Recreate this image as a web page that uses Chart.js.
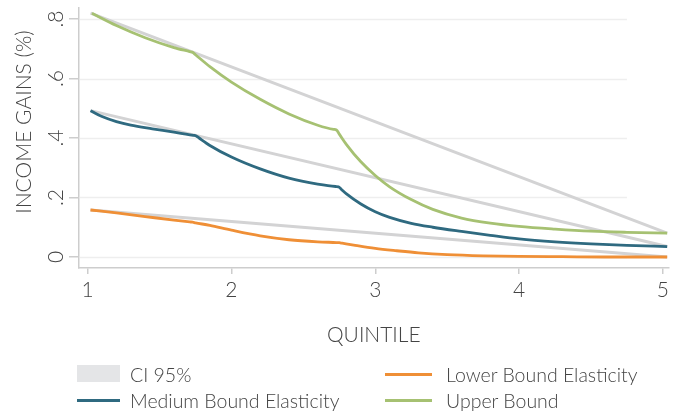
<!DOCTYPE html>
<html>
<head>
<meta charset="utf-8">
<script src="https://cdn.jsdelivr.net/npm/chart.js@4.4.0/dist/chart.umd.min.js"></script>
<style>
  html, body { margin: 0; padding: 0; background: #fff; }
  #wrap { position: relative; width: 673px; height: 414px; overflow: hidden;
          font-family: Lato, "Open Sans", sans-serif; font-weight: 300; color: #444; }
  #c { position: absolute; left: 0; top: 0; }
  .lg-text { position: absolute; font-size: 19.5px; line-height: 20px; white-space: nowrap; }
  .lg-swatch { position: absolute; }
</style>
</head>
<body>
<div id="wrap">
  <canvas id="c" width="673" height="414"></canvas>
  <div id="legend"></div>
</div>
<script>
// Quintile axis and income-gain ticks
const quintileTicks = [1, 2, 3, 4, 5];
const gainTickValues = [0, 0.2, 0.4, 0.6, 0.8];
const gainTickLabels = ['0', '.2', '.4', '.6', '.8'];

// Upper bound elasticity
const upperX = [1.03, 1.20, 1.40, 1.60, 1.71, 1.73, 1.75,
                1.85, 2.00, 2.20, 2.40, 2.60, 2.71, 2.73, 2.75,
                2.80, 2.90, 3.00, 3.10, 3.25, 3.40, 3.60, 3.80, 4.00, 4.25, 4.50, 4.75, 5.03];
const upperY = [0.819, 0.778, 0.737, 0.704, 0.6905, 0.688, 0.680,
                0.640, 0.588, 0.530, 0.481, 0.443, 0.429, 0.427, 0.413,
                0.378, 0.320, 0.274, 0.236, 0.193, 0.160, 0.131, 0.114, 0.103, 0.094, 0.087, 0.083, 0.080];

// Medium bound elasticity
const mediumX = [1.02, 1.10, 1.20, 1.30, 1.45, 1.60, 1.735, 1.755, 1.775,
                 1.85, 2.00, 2.20, 2.40, 2.60, 2.725, 2.745, 2.765,
                 2.80, 2.90, 3.00, 3.10, 3.25, 3.40, 3.60, 3.80, 4.00, 4.25, 4.50, 4.75, 5.03];
const mediumY = [0.492, 0.472, 0.455, 0.443, 0.431, 0.420, 0.409, 0.407, 0.400,
                 0.375, 0.336, 0.296, 0.265, 0.245, 0.237, 0.236, 0.227,
                 0.212, 0.178, 0.152, 0.133, 0.113, 0.100, 0.086, 0.073, 0.061, 0.051, 0.044, 0.039, 0.035];

// Lower bound elasticity
const lowerX = [1.02, 1.20, 1.40, 1.60, 1.71, 1.73, 1.75,
                1.85, 2.00, 2.20, 2.40, 2.60, 2.73, 2.75, 2.77,
                2.85, 3.00, 3.15, 3.30, 3.50, 3.75, 4.00, 4.30, 4.60, 5.03];
const lowerY = [0.158, 0.148, 0.136, 0.124, 0.118, 0.117, 0.115,
                0.106, 0.090, 0.071, 0.058, 0.051, 0.0485, 0.048, 0.0464,
                0.040, 0.029, 0.021, 0.014, 0.008, 0.004, 0.002, 0.001, 0.000, 0.000];

// 95% confidence bands (end points)
const ciX = [1.02, 5.03];
const ciUpperBound = [0.820, 0.080];
const ciMediumBound = [0.492, 0.035];
const ciLowerBound = [0.158, 0.000];

const COLORS = {
  ci: '#d3d3d4',
  ciLegend: '#e4e5e7',
  lower: '#ef8f36',
  medium: '#2f6a80',
  upper: '#a6c172',
  axis: '#cdcdcd',
  grid: '#eeeeee',
  text: '#444444'
};
const FONT = 'Lato, "Open Sans", sans-serif';

const toPoints = (xs, ys) => xs.map((x, i) => ({ x: x, y: ys[i] }));

const ciStyle = {
  borderColor: COLORS.ci, borderWidth: 3, pointRadius: 0, order: 10, fill: false
};
const curveStyle = {
  borderWidth: 2.8, pointRadius: 0, order: 1, fill: false, cubicInterpolationMode: 'monotone'
};

const datasets = [
  Object.assign({ label: 'CI 95%', data: toPoints(ciX, ciUpperBound) }, ciStyle),
  Object.assign({ label: 'CI 95%', data: toPoints(ciX, ciMediumBound) }, ciStyle),
  Object.assign({ label: 'CI 95%', data: toPoints(ciX, ciLowerBound) }, ciStyle),
  Object.assign({ label: 'Lower Bound Elasticity', data: toPoints(lowerX, lowerY), borderColor: COLORS.lower }, curveStyle),
  Object.assign({ label: 'Medium Bound Elasticity', data: toPoints(mediumX, mediumY), borderColor: COLORS.medium }, curveStyle),
  Object.assign({ label: 'Upper Bound', data: toPoints(upperX, upperY), borderColor: COLORS.upper }, curveStyle)
];

// Horizontal grid lines that stop short of the right edge, plus rotated y labels and y title
const gainAxisDecor = {
  id: 'gainAxisDecor',
  beforeDatasetsDraw(chart) {
    const { ctx, chartArea, scales } = chart;
    const xEnd = scales.x.getPixelForValue(4.75);
    ctx.save();
    ctx.strokeStyle = COLORS.grid;
    ctx.lineWidth = 1.5;
    gainTickValues.forEach(v => {
      const y = Math.round(scales.y.getPixelForValue(v)) + 0.5;
      ctx.beginPath();
      ctx.moveTo(chartArea.left + 1, y);
      ctx.lineTo(xEnd, y);
      ctx.stroke();
    });
    ctx.restore();
  },
  afterDraw(chart) {
    const { ctx, scales } = chart;
    ctx.save();
    ctx.fillStyle = COLORS.text;
    ctx.font = '300 21px ' + FONT;
    ctx.textAlign = 'center';
    ctx.textBaseline = 'middle';
    gainTickValues.forEach((v, i) => {
      const y = scales.y.getPixelForValue(v);
      ctx.save();
      ctx.translate(55, y);
      ctx.rotate(-Math.PI / 2);
      ctx.fillText(gainTickLabels[i], 0, 1);
      ctx.restore();
    });
    ctx.translate(23, 122);
    ctx.rotate(-Math.PI / 2);
    ctx.fillText('INCOME GAINS (%)', 0, 1);
    ctx.restore();
  }
};

new Chart(document.getElementById('c'), {
  type: 'line',
  data: { datasets: datasets },
  options: {
    responsive: false,
    animation: false,
    devicePixelRatio: 1,
    layout: { padding: { left: 0, right: 3, top: 8, bottom: 0 } },
    plugins: { legend: { display: false }, tooltip: { enabled: false } },
    scales: {
      x: {
        type: 'linear',
        min: 0.94,
        max: 5.04,
        afterFit(scale) { scale.height = 146; },
        afterBuildTicks(scale) { scale.ticks = quintileTicks.map(v => ({ value: v })); },
        ticks: {
          color: COLORS.text,
          font: { family: FONT, size: 21, weight: 300 },
          padding: 4,
          maxRotation: 0,
          autoSkip: false,
          callback: v => String(v)
        },
        grid: { drawOnChartArea: false, drawTicks: true, tickLength: 6, color: COLORS.axis, lineWidth: 1.5 },
        border: { color: COLORS.axis, width: 1.5 },
        title: {
          display: true,
          text: 'QUINTILE',
          color: COLORS.text,
          font: { family: FONT, size: 21, weight: 300 },
          padding: { top: 0, bottom: 66 }
        }
      },
      y: {
        type: 'linear',
        min: -0.037,
        max: 0.837,
        afterFit(scale) { scale.width = 79; },
        afterBuildTicks(scale) { scale.ticks = gainTickValues.map(v => ({ value: v })); },
        ticks: { display: false },
        grid: { drawOnChartArea: false, drawTicks: true, tickLength: 10, color: COLORS.axis, lineWidth: 1.5 },
        border: { color: COLORS.axis, width: 1.5 }
      }
    }
  },
  plugins: [gainAxisDecor]
});

// Two-column legend below the plot
const legendItems = [
  { text: 'CI 95%', color: COLORS.ciLegend, kind: 'box', swatchLeft: 77, swatchWidth: 43, textLeft: 130, row: 0 },
  { text: 'Lower Bound Elasticity', color: COLORS.lower, kind: 'line', swatchLeft: 385, swatchWidth: 47, textLeft: 446, row: 0 },
  { text: 'Medium Bound Elasticity', color: COLORS.medium, kind: 'line', swatchLeft: 77, swatchWidth: 43, textLeft: 130, row: 1 },
  { text: 'Upper Bound', color: COLORS.upper, kind: 'line', swatchLeft: 385, swatchWidth: 47, textLeft: 446, row: 1 }
];
const rowTextTop = [364.8, 390.6];
const rowCenter = [374.5, 400];
const legendEl = document.getElementById('legend');
legendItems.forEach(item => {
  const sw = document.createElement('div');
  sw.className = 'lg-swatch';
  sw.style.background = item.color;
  sw.style.left = item.swatchLeft + 'px';
  sw.style.width = item.swatchWidth + 'px';
  if (item.kind === 'box') {
    sw.style.top = '365px';
    sw.style.height = '17px';
  } else {
    sw.style.top = (rowCenter[item.row] - 1.5) + 'px';
    sw.style.height = '3px';
  }
  legendEl.appendChild(sw);
  const tx = document.createElement('div');
  tx.className = 'lg-text';
  tx.textContent = item.text;
  tx.style.left = item.textLeft + 'px';
  tx.style.top = rowTextTop[item.row] + 'px';
  legendEl.appendChild(tx);
});
</script>
</body>
</html>
